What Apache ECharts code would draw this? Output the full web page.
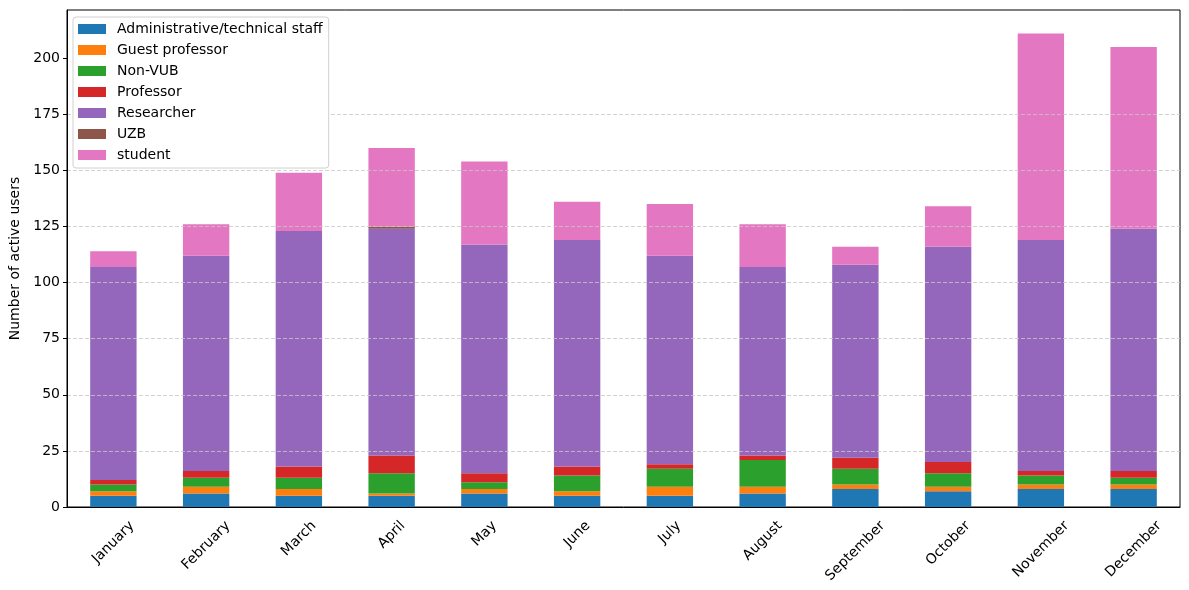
<!DOCTYPE html>
<html>
<head>
<meta charset="utf-8">
<script src="https://cdn.jsdelivr.net/npm/echarts@6/dist/echarts.min.js"></script>
<style>html,body{margin:0;padding:0;background:#fff;}#c{width:1189px;height:590px;}</style>
</head>
<body>
<div id="c"></div>
<script>
const months = ['January','February','March','April','May','June','July','August','September','October','November','December'];
const adminStaff = [5,6,5,5,6,5,5,6,8,7,8,8];
const guestProfessor = [2,3,3,1,2,2,4,3,2,2,2,2];
const nonVUB = [3,4,5,9,3,7,8,12,7,6,4,3];
const professor = [2,3,5,8,4,4,2,2,5,5,2,3];
const researcher = [95,96,105,101,102,101,93,84,86,96,103,108];
const uzb = [0,0,0,1,0,0,0,0,0,0,0,0];
const student = [7,14,26,35,37,17,23,19,8,18,92,81];
const yTicks = [0,25,50,75,100,125,150,175,200];

const seriesDefs = [
  ['Administrative/technical staff', adminStaff, '#1f77b4'],
  ['Guest professor', guestProfessor, '#ff7f0e'],
  ['Non-VUB', nonVUB, '#2ca02c'],
  ['Professor', professor, '#d62728'],
  ['Researcher', researcher, '#9467bd'],
  ['UZB', uzb, '#8c564b'],
  ['student', student, '#e377c2']
];

const font = 'DejaVu Sans';
const fs = 14;

const chart = echarts.init(document.getElementById('c'), null, {renderer: 'canvas'});
chart.setOption({
  animation: false,
  textStyle: {fontFamily: font},
  grid: {left: 67, right: 9, top: 10, bottom: 83, show: true, borderColor: '#000', borderWidth: 1,
    containLabel: false, outerBoundsMode: 'none'},
  legend: {
    orient: 'vertical', left: 73, top: 17, z: 20,
    backgroundColor: '#fff', borderColor: '#d0d0d0', borderWidth: 1, borderRadius: 3,
    padding: [5, 6, 6, 5],
    itemWidth: 28, itemHeight: 10, itemGap: 7,
    textStyle: {fontFamily: font, fontSize: fs, color: '#000', padding: [0, 0, 0, 6]},
    icon: 'rect',
    data: seriesDefs.map(s => s[0])
  },
  xAxis: {
    type: 'category', data: months,
    axisLine: {lineStyle: {color: '#000', width: 1}},
    axisTick: {alignWithLabel: true, length: 4, lineStyle: {color: '#000'}},
    axisLabel: {show: false},
    splitLine: {show: false}
  },
  yAxis: {
    type: 'value', min: 0, max: 221.5, interval: 25, z: 5,
    name: 'Number of active users', nameLocation: 'middle', nameGap: 43,
    nameTextStyle: {fontSize: fs, color: '#000', fontFamily: font},
    axisLine: {show: true, lineStyle: {color: '#000', width: 1}},
    axisTick: {show: true, length: 4, lineStyle: {color: '#000'}, customValues: yTicks},
    axisLabel: {fontSize: fs, color: '#000', fontFamily: font, margin: 7, customValues: yTicks,
      formatter: v => (v % 25 === 0 ? String(v) : '')},
    splitLine: {show: true, showMaxLine: false, showMinLine: false, lineStyle: {color: '#c8c8c8', type: [4, 2], width: 0.8}}
  },
  series: seriesDefs.map(([name, data, color]) => ({
    name, type: 'bar', stack: 'total', data, barWidth: '50%',
    itemStyle: {color},
    emphasis: {disabled: true}
  }))
});

// rotated month labels, centred under each tick (matplotlib ha='center' style)
const ctx = document.createElement('canvas').getContext('2d');
ctx.font = fs + 'px "' + font + '"';
const axisY = chart.convertToPixel({yAxisIndex: 0}, 0);
const topY = axisY + 11;
const h = 16;
chart.setOption({
  graphic: months.map(m => {
    const L = ctx.measureText(m).width;
    return {
      type: 'text',
      x: chart.convertToPixel({xAxisIndex: 0}, m),
      y: topY + (L + h) / (2 * Math.SQRT2),
      rotation: Math.PI / 4,
      style: {text: m, font: fs + 'px "' + font + '"', fill: '#000', align: 'center', verticalAlign: 'middle'}
    };
  })
});
</script>
</body>
</html>
